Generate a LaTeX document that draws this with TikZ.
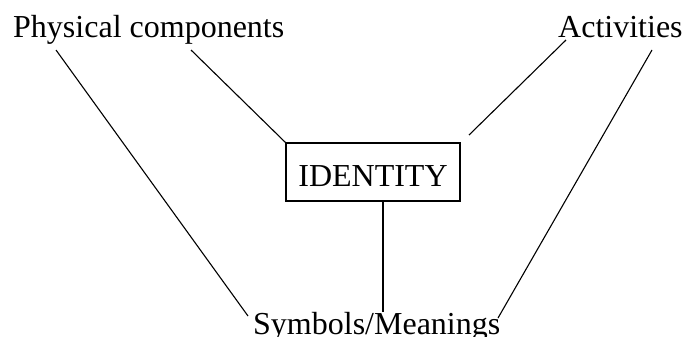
\documentclass[tikz,border=0pt]{standalone}
\usepackage{fontspec}
\setmainfont{Liberation Serif}
\begin{document}
\begin{tikzpicture}[x=1bp,y=-1bp,
  lbl/.style={inner sep=0pt, font=\fontsize{32bp}{38bp}\selectfont},
  idbox/.style={draw, line width=1.3bp, inner sep=0pt, minimum width=174bp, minimum height=58bp,
    text height=28bp, text depth=0bp, font=\fontsize{32bp}{38bp}\selectfont},
  conn/.style={line width=1.1bp}]
\useasboundingbox (0,0) rectangle (683,336);
\node[lbl, anchor=base west] (phys) at (13,37) {Physical components};
\node[lbl, anchor=base west] (act) at (558,37) {Activities};
\node[idbox] (box) at (373,172) {IDENTITY};
\node[lbl, anchor=base west] (sym) at (253,334) {Symbols/Meanings};
% endpoints
\coordinate (p1) at (56,50);
\coordinate (p2) at (191,50);
\coordinate (a1) at (566,40);
\coordinate (a2) at (652,50);
\coordinate (aend) at (469,135);
\coordinate (s1) at (248,316);
\coordinate (s2) at (498,318);
\coordinate (s3) at (383,312);
\draw[conn] (p1) -- (s1);
\draw[conn] (p2) -- (box.north west);
\draw[conn] (a1) -- (aend);
\draw[conn] (a2) -- (s2);
\draw[conn] (box.south -| s3) -- (s3);
\end{tikzpicture}
\end{document}
